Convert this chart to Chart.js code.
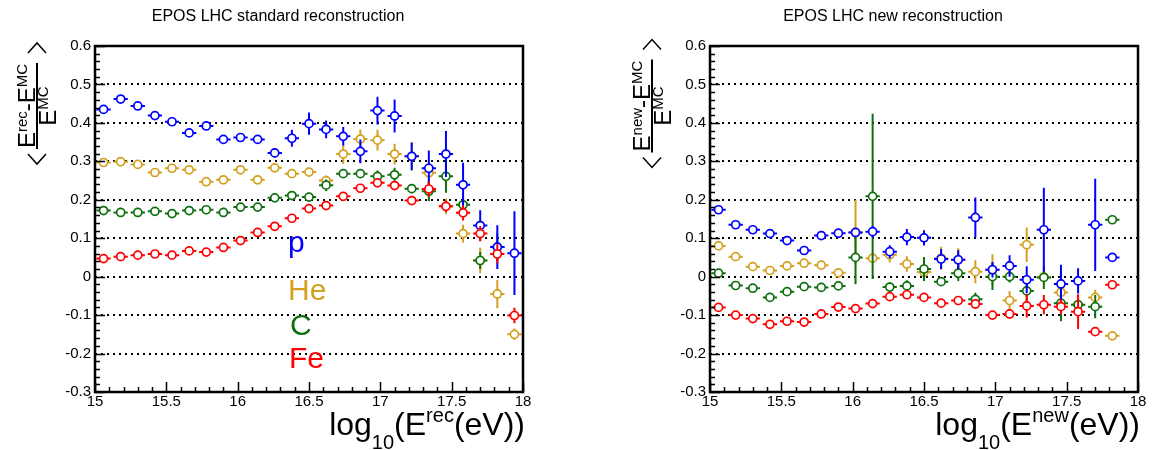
<!DOCTYPE html>
<html>
<head>
<meta charset="utf-8">
<title>EPOS LHC energy reconstruction bias</title>
<script src="https://cdn.jsdelivr.net/npm/chart.js@4.4.1/dist/chart.umd.min.js"></script>
<style>
	body { margin: 0; background: #fff; }
	.row { display: flex; width: 1158px; height: 450px; }
	canvas { display: block; }
</style>
</head>
<body>
<div class="row">
	<canvas id="stdChart" width="579" height="450"></canvas>
	<canvas id="newChart" width="579" height="450"></canvas>
</div>
<script>
const FONT = '"Liberation Sans", Arial, Helvetica, sans-serif';

// log10(E/eV) bin centres and half width
const binCenters = [15.06, 15.18, 15.30, 15.42, 15.54, 15.66, 15.78, 15.90, 16.02, 16.14, 16.26, 16.38, 16.50,
	16.62, 16.74, 16.86, 16.98, 17.10, 17.22, 17.34, 17.46, 17.58, 17.70, 17.82, 17.94];
const binHalfWidth = 0.05;

const xTickValues = [15, 15.5, 16, 16.5, 17, 17.5, 18];
const yTickValues = [-0.3, -0.2, -0.1, 0, 0.1, 0.2, 0.3, 0.4, 0.5, 0.6];

// standard reconstruction: mean bias and its error
const pStd = [0.435, 0.462, 0.444, 0.419, 0.403, 0.374, 0.392, 0.357, 0.362, 0.357, 0.322, 0.360, 0.398,
	0.383, 0.365, 0.326, 0.432, 0.418, 0.313, 0.282, 0.319, 0.239, 0.133, 0.077, 0.061];
const pStdErr = [0.006, 0.006, 0.006, 0.007, 0.007, 0.007, 0.008, 0.008, 0.009, 0.009, 0.012, 0.022, 0.029,
	0.023, 0.024, 0.031, 0.036, 0.043, 0.036, 0.046, 0.060, 0.057, 0.040, 0.057, 0.109];
const heStd = [0.297, 0.299, 0.292, 0.271, 0.282, 0.278, 0.247, 0.252, 0.278, 0.252, 0.283, 0.268, 0.272,
	0.250, 0.319, 0.358, 0.355, 0.319, 0.313, 0.270, 0.183, 0.112, 0.042, -0.045, -0.150];
const heStdErr = [0.004, 0.004, 0.005, 0.005, 0.005, 0.005, 0.006, 0.006, 0.006, 0.007, 0.008, 0.011, 0.010,
	0.013, 0.026, 0.025, 0.027, 0.027, 0.036, 0.030, 0.020, 0.023, 0.033, 0.037, 0.015];
const cStd = [0.172, 0.167, 0.167, 0.170, 0.164, 0.172, 0.174, 0.167, 0.181, 0.181, 0.205, 0.211, 0.207,
	0.238, 0.268, 0.268, 0.261, 0.265, 0.229, 0.222, 0.261, 0.187, 0.042, 0.077, null];
const cStdErr = [0.004, 0.004, 0.004, 0.004, 0.004, 0.005, 0.005, 0.005, 0.005, 0.006, 0.006, 0.007, 0.008,
	0.015, 0.010, 0.010, 0.015, 0.018, 0.012, 0.026, 0.043, 0.020, 0.022, 0.035, 0];
const feStd = [0.047, 0.052, 0.056, 0.059, 0.056, 0.067, 0.064, 0.076, 0.094, 0.115, 0.131, 0.152, 0.177,
	0.185, 0.209, 0.230, 0.244, 0.237, 0.198, 0.228, 0.183, 0.166, 0.112, 0.059, -0.101];
const feStdErr = [0.003, 0.003, 0.003, 0.003, 0.003, 0.004, 0.004, 0.004, 0.004, 0.005, 0.005, 0.005, 0.006,
	0.006, 0.007, 0.007, 0.008, 0.009, 0.010, 0.020, 0.015, 0.020, 0.020, 0.025, 0.020];

// new reconstruction
const pNew = [0.174, 0.135, 0.122, 0.112, 0.094, 0.068, 0.107, 0.113, 0.115, 0.117, 0.065, 0.103, 0.101,
	0.046, 0.044, 0.154, 0.018, 0.028, -0.008, 0.122, -0.019, -0.011, 0.135, 0.050];
const pNewErr = [0.006, 0.006, 0.007, 0.007, 0.008, 0.008, 0.009, 0.010, 0.012, 0.015, 0.017, 0.021, 0.020,
	0.026, 0.025, 0.052, 0.020, 0.028, 0.035, 0.109, 0.050, 0.033, 0.120, 0.006];
const heNew = [0.080, 0.052, 0.026, 0.016, 0.028, 0.035, 0.030, 0.010, 0.115, 0.048, 0.057, 0.033, 0.012,
	0.048, 0.044, 0.013, 0.018, -0.062, 0.083, -0.001, -0.041, -0.073, -0.054, -0.154];
const heNewErr = [0.006, 0.006, 0.007, 0.007, 0.008, 0.008, 0.009, 0.010, 0.085, 0.012, 0.020, 0.020, 0.018,
	0.030, 0.030, 0.030, 0.040, 0.025, 0.045, 0.015, 0.030, 0.015, 0.020, 0.006];
const cNew = [0.009, -0.023, -0.030, -0.054, -0.039, -0.026, -0.028, -0.024, 0.050, 0.209, -0.027, -0.024, 0.020,
	-0.013, 0.009, -0.059, 0.000, 0.000, -0.037, -0.002, -0.069, -0.073, -0.078, 0.148];
const cNewErr = [0.006, 0.007, 0.007, 0.008, 0.008, 0.008, 0.009, 0.009, 0.070, 0.215, 0.012, 0.015, 0.031,
	0.010, 0.020, 0.017, 0.035, 0.015, 0.030, 0.030, 0.047, 0.020, 0.030, 0.006];
const feNew = [-0.080, -0.100, -0.109, -0.124, -0.116, -0.118, -0.097, -0.079, -0.083, -0.070, -0.052, -0.047, -0.054,
	-0.069, -0.062, -0.071, -0.100, -0.097, -0.076, -0.073, -0.078, -0.091, -0.143, -0.021];
const feNewErr = [0.004, 0.004, 0.004, 0.005, 0.005, 0.005, 0.005, 0.006, 0.006, 0.006, 0.007, 0.007, 0.008,
	0.008, 0.009, 0.012, 0.010, 0.012, 0.030, 0.025, 0.020, 0.045, 0.006, 0.006];

const colors = { p: '#0000ff', He: '#d4a020', C: '#0f6f0f', Fe: '#ff0000' };

Chart.defaults.font.family = FONT;

function points(values, errors) {
	const out = [];
	values.forEach((v, i) => {
		if (v !== null) out.push({ x: binCenters[i], y: v, e: errors[i] });
	});
	return out;
}

// dataset 0 ends up on top, so iron goes first and helium last
function datasets(fe, feErr, p, pErr, c, cErr, he, heErr) {
	return [['Fe', fe, feErr], ['p', p, pErr], ['C', c, cErr], ['He', he, heErr]].map(s => ({
		label: s[0],
		data: points(s[1], s[2]),
		borderColor: colors[s[0]],
		backgroundColor: '#fff',
		pointRadius: 4,
		pointBorderWidth: 1.7,
		showLine: false
	}));
}

// text with sub/superscripts: [text, size, baseline shift]
function drawRich(ctx, parts, x, y, align) {
	let w = 0;
	parts.forEach(p => { ctx.font = p[1] + 'px ' + FONT; w += ctx.measureText(p[0]).width; });
	let cx = align === 'right' ? x - w : align === 'center' ? x - w / 2 : x;
	ctx.textAlign = 'left';
	parts.forEach(p => {
		ctx.font = p[1] + 'px ' + FONT;
		ctx.fillText(p[0], cx, y + p[2]);
		cx += ctx.measureText(p[0]).width;
	});
	return w;
}

const errorBars = {
	id: 'errorBars',
	beforeDatasetDraw(chart, args) {
		const ds = chart.data.datasets[args.index];
		const xs = chart.scales.x, ys = chart.scales.y, ctx = chart.ctx;
		ctx.save();
		ctx.strokeStyle = ds.borderColor;
		ctx.lineWidth = 2;
		ctx.beginPath();
		ds.data.forEach(pt => {
			const px = xs.getPixelForValue(pt.x), py = ys.getPixelForValue(pt.y);
			ctx.moveTo(xs.getPixelForValue(pt.x - binHalfWidth), py);
			ctx.lineTo(xs.getPixelForValue(pt.x + binHalfWidth), py);
			ctx.moveTo(px, ys.getPixelForValue(pt.y - pt.e));
			ctx.lineTo(px, ys.getPixelForValue(pt.y + pt.e));
		});
		ctx.stroke();
		ctx.restore();
	}
};

const frameDeco = {
	id: 'frameDeco',
	afterDraw(chart, args, opts) {
		const { ctx, chartArea: a, scales: { x, y } } = chart;
		ctx.save();
		ctx.strokeStyle = '#000';
		ctx.fillStyle = '#000';

		// ticks pointing inwards
		ctx.lineWidth = 1.5;
		ctx.beginPath();
		for (let i = 0; i <= 30; i++) {
			const px = Math.round(x.getPixelForValue(15 + i / 10)) + 0.5;
			ctx.moveTo(px, a.bottom);
			ctx.lineTo(px, a.bottom - (i % 5 === 0 ? 10 : 5));
		}
		for (let i = 0; i <= 45; i++) {
			const py = Math.round(y.getPixelForValue(-0.3 + i * 0.02)) + 0.5;
			ctx.moveTo(a.left, py);
			ctx.lineTo(a.left + (i % 5 === 0 ? 10 : 5), py);
		}
		ctx.stroke();

		ctx.lineWidth = 2.5;
		ctx.strokeRect(a.left, a.top, a.right - a.left, a.bottom - a.top);

		// pad title
		ctx.font = '16px ' + FONT;
		ctx.textAlign = 'center';
		ctx.textBaseline = 'middle';
		ctx.fillText(opts.title, (a.left + a.right) / 2 - 31, 17);

		// x axis title
		ctx.textBaseline = 'alphabetic';
		drawRich(ctx, [['log', 32, 0], ['10', 20, 14], ['(E', 32, 0], [opts.sup, 20, -13], ['(eV))', 32, 0]],
			a.right + 2, 435, 'right');

		// y axis title: < (E^sup - E^MC) / E^MC >
		ctx.save();
		ctx.translate(a.left - 58, 106);
		ctx.rotate(-Math.PI / 2);
		const w = drawRich(ctx, [['E', 24, 0], [opts.sup, 15, -8], ['-E', 24, 0], ['MC', 15, -8]], 0, -2, 'center');
		drawRich(ctx, [['E', 24, 0], ['MC', 15, -8]], 0, 19, 'center');
		ctx.lineWidth = 2;
		ctx.beginPath();
		ctx.moveTo(-w / 2 - 1, 0);
		ctx.lineTo(w / 2 + 1, 0);
		ctx.stroke();
		ctx.lineWidth = 1.5;
		ctx.beginPath();
		ctx.moveTo(-w / 2 - 6, -9); ctx.lineTo(-w / 2 - 16, 0); ctx.lineTo(-w / 2 - 6, 9);
		ctx.moveTo(w / 2 + 11, -9); ctx.lineTo(w / 2 + 21, 0); ctx.lineTo(w / 2 + 11, 9);
		ctx.stroke();
		ctx.restore();

		// species labels
		if (opts.species) {
			ctx.font = '30px ' + FONT;
			ctx.textAlign = 'left';
			[['p', 193, 252], ['He', 193, 300], ['C', 195, 335], ['Fe', 194, 368]].forEach(l => {
				ctx.fillStyle = colors[l[0]];
				ctx.fillText(l[0], a.left + l[1], l[2]);
			});
		}
		ctx.restore();
	}
};

function options(axisWidth, rightPad, deco) {
	return {
		responsive: false,
		animation: false,
		devicePixelRatio: 1,
		layout: { padding: { left: 0, top: 46, right: rightPad, bottom: 0 } },
		plugins: {
			legend: { display: false },
			tooltip: { enabled: false },
			frameDeco: deco
		},
		scales: {
			x: {
				type: 'linear',
				min: 15,
				max: 18,
				afterBuildTicks: s => { s.ticks = xTickValues.map(v => ({ value: v })); },
				afterFit: s => { s.height = 58; s.paddingLeft = 0; s.paddingRight = 0; },
				grid: { display: false, drawTicks: false },
				border: { display: false },
				ticks: { color: '#000', font: { size: 15 }, padding: 1, autoSkip: false, maxRotation: 0,
					callback: v => String(v) }
			},
			y: {
				type: 'linear',
				min: -0.3,
				max: 0.6,
				afterBuildTicks: s => { s.ticks = yTickValues.map(v => ({ value: v })); },
				afterFit: s => { s.width = axisWidth; s.paddingTop = 0; s.paddingBottom = 0; },
				grid: {
					drawTicks: false,
					lineWidth: 2,
					color: c => (c.tick && (c.tick.value === -0.3 || c.tick.value === 0.6)) ? 'rgba(0,0,0,0)' : '#000'
				},
				border: { display: false, dash: [2, 4] },
				ticks: { color: '#000', font: { size: 15 }, padding: 4,
					callback: v => (Math.abs(v) < 1e-9 ? '0' : v.toFixed(1)) }
			}
		}
	};
}

new Chart(document.getElementById('stdChart'), {
	type: 'scatter',
	data: { datasets: datasets(feStd, feStdErr, pStd, pStdErr, cStd, cStdErr, heStd, heStdErr) },
	options: options(95, 56, { title: 'EPOS LHC standard reconstruction', sup: 'rec', species: true }),
	plugins: [errorBars, frameDeco]
});

new Chart(document.getElementById('newChart'), {
	type: 'scatter',
	data: { datasets: datasets(feNew, feNewErr, pNew, pNewErr, cNew, cNewErr, heNew, heNewErr) },
	options: options(131, 20, { title: 'EPOS LHC new reconstruction', sup: 'new', species: false }),
	plugins: [errorBars, frameDeco]
});
</script>
</body>
</html>
